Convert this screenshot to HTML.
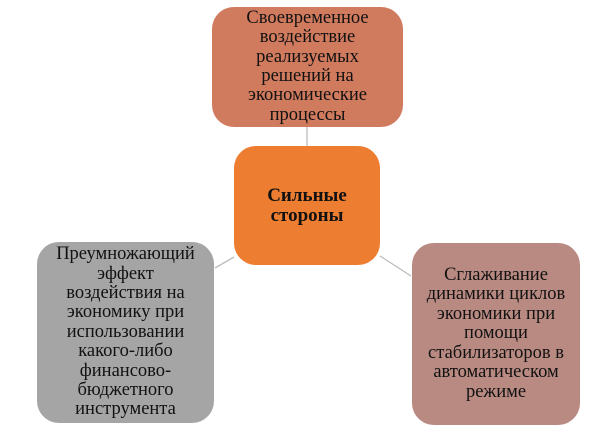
<!DOCTYPE html>
<html><head><meta charset="utf-8"><style>
body{margin:0;width:616px;height:443px;background:#fff;position:relative;overflow:hidden;font-family:"Liberation Serif",serif;}
.b{position:absolute;border-radius:22px;display:flex;align-items:center;justify-content:center;text-align:center;font-size:18.5px;line-height:19.4px;color:#111;box-sizing:border-box;white-space:nowrap;}
svg{position:absolute;left:0;top:0}
</style></head><body>
<svg width="616" height="443"><g stroke="#bdbdbd" stroke-width="1.3">
<line x1="307" y1="127" x2="307" y2="146"/>
<line x1="215" y1="268" x2="234" y2="257"/>
<line x1="380" y1="256" x2="411" y2="276"/>
</g></svg>
<div class="b" style="left:212px;top:7px;width:191px;height:120px;background:#d07a5e;">Своевременное<br>воздействие<br>реализуемых<br>решений на<br>экономические<br>процессы</div>
<div class="b" style="left:234px;top:146px;width:146px;height:119px;background:#ed7d31;font-weight:bold;font-size:19px;line-height:20px;">Сильные<br>стороны</div>
<div class="b" style="left:37px;top:242px;width:177px;height:181px;background:#a5a5a5;">Преумножающий<br>эффект<br>воздействия на<br>экономику при<br>использовании<br>какого-либо<br>финансово-<br>бюджетного<br>инструмента</div>
<div class="b" style="left:412px;top:243px;width:168px;height:182px;background:#b98a82;">Сглаживание<br>динамики циклов<br>экономики при<br>помощи<br>стабилизаторов в<br>автоматическом<br>режиме</div>
</body></html>
